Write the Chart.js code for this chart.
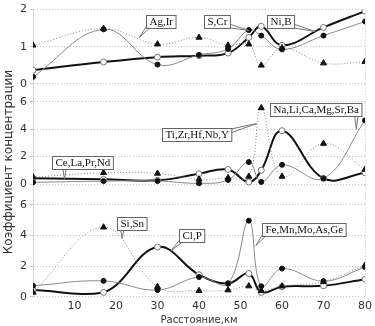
<!DOCTYPE html>
<html>
<head>
<meta charset="utf-8">
<script src="https://cdn.jsdelivr.net/npm/chart.js@4.4.1/dist/chart.umd.min.js"></script>
<style>
  html, body { margin: 0; padding: 0; background: #fff; }
  #wrap { width: 375px; height: 326px; }
</style>
</head>
<body>
<div id="wrap"><canvas id="myChart" width="375" height="326"></canvas></div>
<script>

// расстояние, км
const distance = [0, 17, 30, 40, 47, 52, 55, 60, 70, 80];

// верхняя панель
const agIr = [1.04, 1.49, 1.07, 1.25, 1.04, 1.07, 0.5, 0.97, 0.56, 0.6];
const sCr  = [0.19, 1.47, 0.52, 0.78, 0.94, 1.45, 1.3, 0.93, 1.3, 1.68];
const niB  = [0.37, 0.59, 0.72, 0.76, 0.83, 1.25, 1.55, 1.04, 1.52, 1.96];

// средняя панель
const tiZr  = [0.5, 0.82, 0.77, 0.35, 0.45, 0.55, 5.55, 0.55, 2.95, 1.06];
const naLi  = [0.12, 0.21, 0.22, 0.05, 0.3, 1.6, 0.15, 1.4, 0.41, 4.64];
const ceLa  = [0.42, 0.34, 0.27, 0.75, 1.06, 0.14, 1.0, 3.89, 0.41, 0.82];

// нижняя панель
const siSn  = [0.3, 4.54, 0.67, 0.41, 0.45, 0.71, 0.4, 0.7, 1.0, 2.06];
const feMn  = [0.73, 1.05, 0.45, 1.3, 0.88, 4.97, 0.7, 1.85, 1.03, 1.95];
const clP   = [0.45, 0.3, 3.25, 1.45, 0.88, 1.53, 0.3, 0.67, 0.73, 1.16];

const xTicks   = [10, 20, 30, 40, 50, 60, 70, 80];
const topTicks = [0, 1, 2];
const midTicks = [0, 2, 4, 6];
const botTicks = [0, 2, 4, 6];

// подписи-выноски: текст, ось, левый край рамки (км, значение), острие
const callouts = [
  {text: 'Ag,Ir', axis: 'yTop', bx: 27.3, by: 1.68, tx: 25.6, ty: 1.25},
  {text: 'S,Cr', axis: 'yTop', bx: 41.2, by: 1.69, tx: 52, ty: 1.44},
  {text: 'Ni,B', axis: 'yTop', bx: 56.3, by: 1.68, tx: 68, ty: 1.41},
  {text: 'Na,Li,Ca,Mg,Sr,Ba', axis: 'yMid', bx: 57, by: 5.46, tx: 77.9, ty: 4.0},
  {text: 'Ti,Zr,Hf,Nb,Y', axis: 'yMid', bx: 31.1, by: 3.62, tx: 53.9, ty: 4.41},
  {text: 'Ce,La,Pr,Nd', axis: 'yMid', bx: 4.5, by: 1.55, tx: 7.6, ty: 0.36},
  {text: 'Si,Sn', axis: 'yBot', bx: 20.3, by: 4.8, tx: 21.5, ty: 3.8},
  {text: 'Cl,P', axis: 'yBot', bx: 35.2, by: 4.03, tx: 33.3, ty: 3.03},
  {text: 'Fe,Mn,Mo,As,Ge', axis: 'yBot', bx: 55.1, by: 4.42, tx: 53.7, ty: 3.35}
];

const yTitle = 'Коэффициент концентрации';
const xTitle = 'Расстояние,км';

function pts(values) {
  return distance.map((d, i) => ({x: d, y: values[i]}));
}

function dotted(label, values, axis) {
  return {
    label: label, data: pts(values), yAxisID: axis,
    borderColor: '#8a8a8a', borderWidth: 1, borderDash: [1, 2],
    pointStyle: 'triangle', pointRadius: 3.5,
    pointBackgroundColor: '#111', pointBorderColor: '#111', pointBorderWidth: 1,
    tension: 0.4
  };
}

function thin(label, values, axis) {
  return {
    label: label, data: pts(values), yAxisID: axis,
    borderColor: '#8a8a8a', borderWidth: 1,
    pointStyle: 'circle', pointRadius: 2.5,
    pointBackgroundColor: '#111', pointBorderColor: '#111', pointBorderWidth: 1,
    tension: 0.4
  };
}

function thick(label, values, axis) {
  return {
    label: label, data: pts(values), yAxisID: axis,
    borderColor: '#111', borderWidth: 2,
    pointStyle: 'circle', pointRadius: 3,
    pointBackgroundColor: '#fff', pointBorderColor: '#777', pointBorderWidth: 1,
    tension: 0.4
  };
}

const tickFont = {family: 'DejaVu Sans', size: 11};

function yAxis(min, max, weight, ticks) {
  return {
    type: 'linear', position: 'left', stack: 'panels', stackWeight: weight,
    min: min, max: max,
    afterBuildTicks: axis => { axis.ticks = ticks.map(v => ({value: v})); },
    afterFit: axis => { axis.width = 33; },
    grid: {color: '#c4c4c4', tickLength: 3},
    border: {display: true, color: '#d6d6d6', dash: [1, 2]},
    ticks: {font: tickFont, color: '#333', padding: 3}
  };
}

const calloutPlugin = {
  id: 'callouts',
  afterDatasetsDraw(chart) {
    const ctx = chart.ctx;
    const xs = chart.scales.x;
    ctx.save();
    ctx.font = '11px "Liberation Serif"';
    callouts.forEach(c => {
      const ys = chart.scales[c.axis];
      const w = ctx.measureText(c.text).width + 6;
      const h = 13;
      const left = Math.round(xs.getPixelForValue(c.bx)) + 0.5;
      const top = Math.round(ys.getPixelForValue(c.by) - h / 2) + 0.5;
      const tx = xs.getPixelForValue(c.tx);
      const ty = ys.getPixelForValue(c.ty);
      const bx = Math.min(Math.max(tx, left + 3), left + w - 3);
      const by = Math.min(Math.max(ty, top + 3), top + h - 3);
      const len = Math.hypot(tx - bx, ty - by) || 1;
      const nx = -(ty - by) / len * 2, ny = (tx - bx) / len * 2;
      ctx.strokeStyle = '#777';
      ctx.lineWidth = 1;
      ctx.beginPath();
      ctx.moveTo(bx + nx, by + ny); ctx.lineTo(tx, ty);
      ctx.moveTo(bx - nx, by - ny); ctx.lineTo(tx, ty);
      ctx.stroke();
      ctx.fillStyle = '#fff';
      ctx.fillRect(left, top, w, h);
      ctx.strokeStyle = '#666';
      ctx.strokeRect(left, top, w, h);
      ctx.fillStyle = '#111';
      ctx.textAlign = 'left';
      ctx.textBaseline = 'middle';
      ctx.fillText(c.text, left + 3, top + h / 2 + 0.5);
    });
    ctx.restore();
  },
  afterDraw(chart) {
    const ctx = chart.ctx;
    ctx.save();
    ctx.translate(9, 162);
    ctx.rotate(-Math.PI / 2);
    ctx.font = '12px "DejaVu Sans"';
    ctx.fillStyle = '#333';
    ctx.textAlign = 'center';
    ctx.textBaseline = 'middle';
    ctx.fillText(yTitle, 0, 0);
    ctx.restore();
  }
};

const ctx = document.getElementById('myChart');

new Chart(ctx, {
  type: 'line',
  data: {
    datasets: [
      dotted('Ag,Ir', agIr, 'yTop'), thin('S,Cr', sCr, 'yTop'), thick('Ni,B', niB, 'yTop'),
      dotted('Ti,Zr,Hf,Nb,Y', tiZr, 'yMid'), thin('Na,Li,Ca,Mg,Sr,Ba', naLi, 'yMid'), thick('Ce,La,Pr,Nd', ceLa, 'yMid'),
      dotted('Si,Sn', siSn, 'yBot'), thin('Fe,Mn,Mo,As,Ge', feMn, 'yBot'), thick('Cl,P', clP, 'yBot')
    ]
  },
  options: {
    responsive: false,
    devicePixelRatio: 1,
    animation: false,
    layout: {padding: {top: 7, right: 8, left: 0, bottom: 0}},
    plugins: {legend: {display: false}, tooltip: {enabled: false}},
    scales: {
      x: {
        type: 'linear', min: 0, max: 80,
        afterBuildTicks: axis => { axis.ticks = xTicks.map(v => ({value: v})); },
        afterFit: axis => { axis.height = 29; },
        grid: {
          drawTicks: false,
          color: c => (c.tick && c.tick.value === 80) ? '#c4c4c4' : 'rgba(0,0,0,0)'
        },
        border: {display: false, dash: [1, 2]},
        ticks: {font: tickFont, color: '#333', padding: 3, maxRotation: 0},
        title: {display: true, text: xTitle, font: {family: 'DejaVu Sans', size: 10}, color: '#333', padding: {top: 0, bottom: 0}}
      },
      // при стыковке левых осей последняя идёт сверху
      yBot: yAxis(0, 6, 93, botTicks),
      yMid: yAxis(-1.52, 6, 104, midTicks),
      yTop: yAxis(-0.48, 2, 93, topTicks)
    }
  },
  plugins: [calloutPlugin]
});

</script>
</body>
</html>
